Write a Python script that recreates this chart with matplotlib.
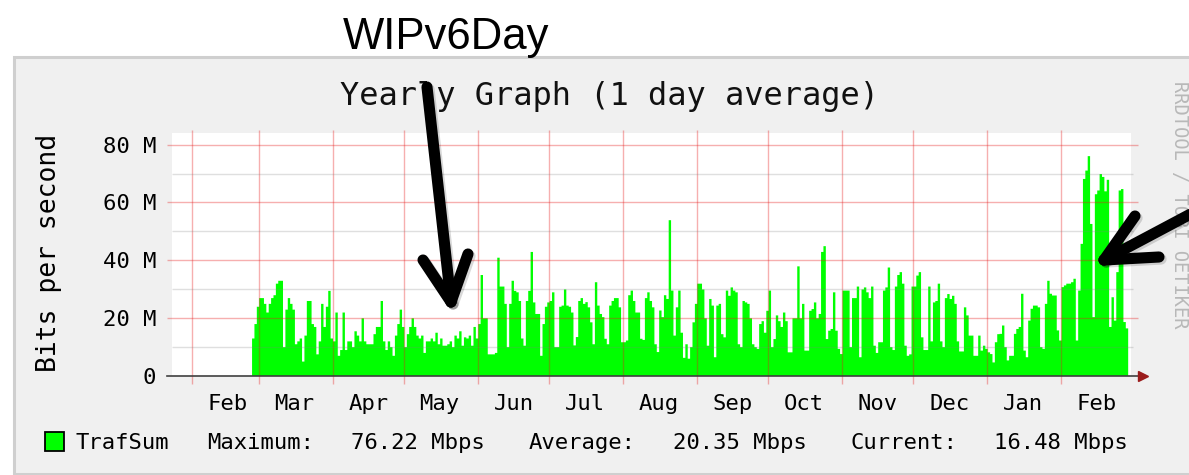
import numpy as np
import pandas as pd
import matplotlib
matplotlib.use('Agg')
import matplotlib.pyplot as plt
import matplotlib.dates as mdates
import matplotlib.ticker as mticker
import matplotlib.patheffects as pe
from matplotlib.patches import Rectangle
from matplotlib.lines import Line2D

# --- data (daily averages, Mbps) ---
start_day = '2011-02-26'
traffic_mbps = [
    13, 18, 24, 27, 27, 25, 22, 25, 27, 28,
    32, 33, 33, 10, 23, 27, 25, 23, 11, 12,
    13, 5, 14, 26, 26, 18, 17, 7.5, 12, 25,
    17, 24, 29.5, 13, 12, 22, 7, 9, 22, 9,
    12, 12, 10, 15.5, 14, 12, 20, 12, 11, 11,
    11, 14.5, 17, 17, 26, 12, 9, 12, 10, 7,
    14, 18, 23,
    17, 10, 14.5, 17, 20, 17, 14, 13, 14, 8,
    12, 12, 13, 12, 15, 11, 13, 10.5, 10.5, 11,
    12, 10, 14, 13, 15.5, 10.5, 13.4, 13, 14, 10.5,
    17, 13, 18, 35, 20, 20, 7.5, 7.5, 7.5, 8,
    41, 31, 31, 25, 10, 25, 33, 29.5, 29, 26,
    13, 10.5, 26, 29.5, 43, 25.5, 21.5, 21.5, 7, 18,
    24, 25.5, 26,
    29, 10, 10, 24, 24.4, 30, 24.4, 24, 22, 10.6,
    13.5, 26, 27, 25, 25.6, 23.8, 18.6, 11, 32.5, 24.4,
    21.5, 20.4, 12.9, 11, 24.4, 26, 27, 27, 23.8, 11.7,
    11.7, 12.3, 28, 29.6, 26, 22, 22, 12.9, 12.5, 27,
    29, 26, 23.8, 11, 8.3, 22.7, 20.4, 28, 26.7, 54,
    29.6, 14, 23.8, 29.6, 15, 6.3, 11, 6, 10, 18.6,
    25, 32, 32,
    30, 20, 10.5, 26.7, 24.4, 6.5, 24.4, 25, 14.5, 13.4,
    29.6, 27.8, 30.7, 29.6, 29, 11, 10, 26, 25.5, 25,
    20, 11, 10, 9.4, 18, 19, 15, 22.6, 29.6, 10,
    12.8, 21, 19, 17, 22, 19, 8.2, 8.2, 20, 20,
    38, 20, 25, 8.8, 8.8, 22.6, 23.2, 25.5, 20, 21.5,
    43, 45, 12.8, 15.7, 16.3, 29, 15.7, 9.4, 7.6, 29.6,
    29.6, 29.6,
    10, 27, 27, 31, 6.5, 30, 30.7, 29, 27, 31,
    10.5, 8, 11.7, 11.7, 29.6, 30.7, 37.6, 10, 9, 31,
    35, 36, 32, 10.5, 7, 7.5, 31, 31, 34.8, 36,
    13.4, 9, 9, 31, 12, 25.5, 26, 32, 12, 10,
    27, 28.4, 26.7, 27.8, 25, 12, 8.5, 8.5, 23.8, 21,
    14, 14, 7, 7, 14, 8.8, 10.5, 9.4, 8.2, 7.6,
    4.7, 11.7, 14.5,
    14.6, 17.5, 10, 5.4, 7, 7, 14.6, 16.3, 17, 28.5,
    8.8, 6.5, 19.2, 23.3, 24.4, 24.4, 23.8, 10, 9.4, 25,
    33, 28.5, 27.9, 27.9, 15.8, 12.3, 30.8, 31.4, 32, 32,
    32.5, 33.7, 12.3, 29.6, 45.8, 68.3, 71.2, 76.2, 52.7, 20.4,
    63, 64.3, 70, 69, 64, 68, 17, 27.3, 19.2, 36,
    64.3, 64.8, 18.7, 16.5,
]
y_ticks = [0, 20, 40, 60, 80]
y_tick_labels = ['0', '20 M', '40 M', '60 M', '80 M']
y_minor = [10, 30, 50, 70]
title = 'Yearly Graph (1 day average)'
ylabel = 'Bits per second'
watermark = 'RRDTOOL / TOBI OETIKER'
series_name = 'TrafSum'
stat_labels = ['Maximum:', 'Average:', 'Current:']
stat_values = ['76.22 Mbps', '20.35 Mbps', '16.48 Mbps']
note = 'WIPv6Day'

W, H = 1189, 475
MONO = 'DejaVu Sans Mono'
GREEN = '#00ff00'
RED_GRID = (0.9, 0.1, 0.1, 0.35)
GRAY_GRID = (0.5, 0.5, 0.5, 0.25)


def fx(px):
    return px / W


def fy(py):
    return 1 - py / H


fig = plt.figure(figsize=(W / 100, H / 100), dpi=100, facecolor='white')

# rrdtool canvas panel
fig.add_artist(Rectangle((fx(13.5), fy(473.5)), fx(1200) - fx(13.5), fy(57) - fy(473.5),
                         transform=fig.transFigure, facecolor='#f0f0f0',
                         edgecolor='#cfcfcf', lw=2.2, zorder=0))

ax = fig.add_axes([fx(172), fy(375.5), fx(1131) - fx(172), fy(133) - fy(375.5)])
ax.set_facecolor('white')
for s in ax.spines.values():
    s.set_visible(False)

# one closed step polygon (AREA)
edges = mdates.date2num(pd.date_range(start_day, periods=len(traffic_mbps) + 1, freq='D'))
vals = np.asarray(traffic_mbps, dtype=float)
step_x = np.repeat(edges, 2)[1:-1]
step_y = np.repeat(vals, 2)
ax.fill_between(step_x, step_y, 0, color=GREEN, lw=0, zorder=2)

ax.set_xlim(mdates.date2num(pd.Timestamp('2011-01-23 14:00')),
            mdates.date2num(pd.Timestamp('2012-03-01 09:30')))
ax.set_ylim(0, 84.05)

# grid drawn on top of the data, like rrdtool
months = pd.date_range('2011-02-01', '2012-02-01', freq='MS')
ax.vlines(mdates.date2num(months), -2.9, 85.1, colors=[RED_GRID], lw=1, clip_on=False, zorder=3)
ax.hlines(y_minor, 0, 1.002, transform=ax.get_yaxis_transform(), colors=[GRAY_GRID],
          lw=1, clip_on=False, zorder=3)
ax.hlines(y_ticks[1:], -0.005, 1.007, transform=ax.get_yaxis_transform(), colors=[RED_GRID],
          lw=1, clip_on=False, zorder=3)

# axes with arrows
ax.plot([-0.005, 1.009], [0, 0], transform=ax.get_yaxis_transform(), color='#404040',
        lw=1.2, clip_on=False, zorder=4)
ax.plot([1.0125], [0], marker='>', ms=7, color='#9b1c1c', transform=ax.get_yaxis_transform(),
        clip_on=False, zorder=5)
ax.plot([0, 0], [-4, 85.8], transform=ax.get_xaxis_transform(), color='#404040',
        lw=1.2, clip_on=False, zorder=4)
ax.plot([0], [87.4], marker='^', ms=7, color='#9b1c1c', transform=ax.get_xaxis_transform(),
        clip_on=False, zorder=5)

# ticks / labels
ax.set_yticks(y_ticks, y_tick_labels)
ax.xaxis.set_major_locator(mdates.MonthLocator())
ax.xaxis.set_major_formatter(mticker.NullFormatter())
ax.xaxis.set_minor_locator(mdates.MonthLocator(bymonthday=16))
ax.xaxis.set_minor_formatter(mdates.DateFormatter('%b'))
ax.tick_params(axis='both', which='both', length=0)
ax.tick_params(axis='y', pad=11.5, labelsize=16)
ax.tick_params(axis='x', which='minor', pad=13, labelsize=16)
for lab in ax.get_yticklabels() + ax.get_xticklabels(minor=True):
    lab.set_fontfamily(MONO)

fig.text(fx(609.5), fy(104.5), title, ha='center', va='baseline', fontsize=23,
         family=MONO, color='#111111')
fig.text(fx(49), fy(253), ylabel, rotation=90, ha='center', va='center', fontsize=19,
         family=MONO)
fig.text(fx(1179), fy(205), watermark, rotation=270, ha='center', va='center', fontsize=13.5,
         family=MONO, color='#b8b8b8')

# legend line
fig.add_artist(Rectangle((fx(45), fy(451)), fx(64) - fx(45), fy(432) - fy(451),
                         transform=fig.transFigure, facecolor=GREEN, edgecolor='black',
                         lw=1.3, zorder=2))
fig.text(fx(75), fy(449), series_name, ha='left', va='baseline', fontsize=16, family=MONO)
for lab, xl, val, xv in zip(stat_labels, [207, 529, 851], stat_values, [351, 673, 994]):
    fig.text(fx(xl), fy(449), lab, ha='left', va='baseline', fontsize=16, family=MONO)
    fig.text(fx(xv), fy(449), val, ha='left', va='baseline', fontsize=16, family=MONO)

# annotation text + hand-drawn arrows
fig.text(fx(343), fy(49), note, ha='left', va='baseline', fontsize=31.5,
         family='Liberation Sans', color='black')

shadow = [pe.SimpleLineShadow(offset=(1.5, -1.5), alpha=0.15, shadow_color='black'), pe.Normal()]
arrow_lines = [
    ([427, 451], [87, 302]),
    ([423, 451], [260, 302]),
    ([468, 451], [254, 302]),
    ([1200, 1104], [209, 260]),
    ([1135, 1104], [216, 260]),
    ([1159, 1104], [257, 260]),
]
for xs, ys in arrow_lines:
    fig.add_artist(Line2D([fx(v) for v in xs], [fy(v) for v in ys], transform=fig.transFigure,
                          color='black', lw=8, solid_capstyle='round',
                          path_effects=shadow, zorder=10))

fig.savefig('out.png', dpi=100, facecolor='white')
